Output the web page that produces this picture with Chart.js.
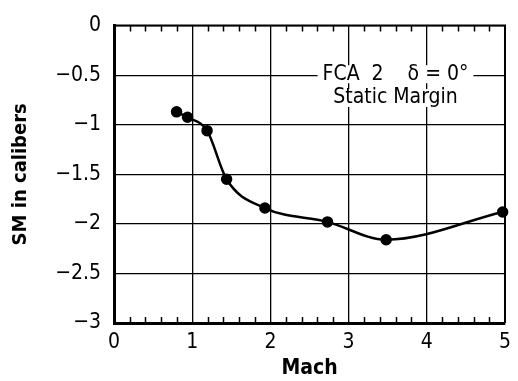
<!DOCTYPE html>
<html>
<head>
<meta charset="utf-8">
<script src="https://cdn.jsdelivr.net/npm/chart.js@4"></script>
<style>
  html, body { margin: 0; padding: 0; background: #fff; }
  #wrap { width: 518px; height: 381px; }
</style>
</head>
<body>
<div id="wrap"><canvas id="smChart"></canvas></div>
<script>
// values
var mach = [0.8, 0.94, 1.19, 1.44, 1.93, 2.73, 3.48, 4.97];
var staticMargin = [-0.87, -0.925, -1.06, -1.55, -1.84, -1.98, -2.16, -1.88];

var xTickLabels = ['0', '1', '2', '3', '4', '5'];
var yTickLabels = ['\u22123', '\u22122.5', '\u22122', '\u22121.5', '\u22121', '\u22120.5', '0'];
var noteLines = ['FCA  2    \u03b4 = 0\u00b0', 'Static Margin'];

var FONT = "'Liberation Sans Narrow', 'DejaVu Sans Condensed', 'Arial Narrow', sans-serif";

// top/right frame, inside minor ticks, and the note text
var framePlugin = {
    id: 'frame',
    afterDraw: function(chart) {
        var ctx = chart.ctx;
        var a = chart.chartArea;
        var xs = chart.scales.x, ys = chart.scales.y;
        ctx.save();
        ctx.strokeStyle = '#000';

        // minor ticks every 0.2 along top and bottom
        ctx.lineWidth = 1.5;
        for (var i = 1; i < 25; i++) {
            if (i % 5 === 0) continue;
            var px = Math.round(xs.getPixelForValue(i * 0.2)) + 0.5;
            ctx.beginPath();
            ctx.moveTo(px, a.bottom); ctx.lineTo(px, a.bottom - 6);
            ctx.moveTo(px, a.top); ctx.lineTo(px, a.top + 6);
            ctx.stroke();
        }

        // top and right border
        ctx.lineWidth = 2;
        ctx.beginPath();
        ctx.moveTo(a.left, a.top); ctx.lineTo(a.right, a.top); ctx.lineTo(a.right, a.bottom);
        ctx.stroke();

        // note text with white backing so the grid breaks around it
        ctx.font = '21px ' + FONT;
        ctx.textAlign = 'center';
        ctx.textBaseline = 'middle';
        var cx = xs.getPixelForValue(3.6);
        var rows = [ys.getPixelForValue(-0.49), ys.getPixelForValue(-0.73)];
        for (var j = 0; j < noteLines.length; j++) {
            var w = ctx.measureText(noteLines[j]).width;
            ctx.fillStyle = '#fff';
            ctx.fillRect(cx - w / 2 - 5, rows[j] - 9, w + 10, 18);
            ctx.fillStyle = '#000';
            ctx.fillText(noteLines[j], cx, rows[j]);
        }
        ctx.restore();
    }
};

var ctx = document.getElementById('smChart').getContext('2d');
var chart = new Chart(ctx, {
    type: 'scatter',
    data: {
        datasets: [{
            data: mach.map(function(m, i) { return { x: m, y: staticMargin[i] }; }),
            showLine: true,
            cubicInterpolationMode: 'monotone',
            borderColor: '#000',
            borderWidth: 2.5,
            pointRadius: 4.5,
            pointBackgroundColor: '#000',
            pointBorderColor: '#000',
            clip: false
        }]
    },
    options: {
        responsive: true,
        maintainAspectRatio: false,
        animation: false,
        events: [],
        layout: { padding: { top: 15, right: 7, left: 0, bottom: 0 } },
        plugins: { legend: { display: false }, tooltip: { enabled: false } },
        scales: {
            x: {
                type: 'linear',
                min: 0, max: 5,
                afterBuildTicks: function(s) { s.ticks = xTickLabels.map(function(t, i) { return { value: i }; }); },
                afterFit: function(s) { s.height = 58; },
                border: { color: '#000', width: 3 },
                grid: { color: '#000', lineWidth: 1.3, drawTicks: false },
                ticks: {
                    color: '#000',
                    padding: 7,
                    maxRotation: 0,
                    font: { family: FONT, size: 21 },
                    callback: function(v, i) { return xTickLabels[i]; }
                },
                title: {
                    display: true,
                    text: 'Mach',
                    color: '#000',
                    padding: { top: 0, bottom: 0 },
                    font: { family: FONT, size: 21, weight: 'bold' }
                }
            },
            y: {
                type: 'linear',
                min: -3, max: 0,
                afterBuildTicks: function(s) { s.ticks = yTickLabels.map(function(t, i) { return { value: -3 + i * 0.5 }; }); },
                afterFit: function(s) { s.width = 114; },
                border: { color: '#000', width: 3 },
                grid: { color: '#000', lineWidth: 1.3, drawTicks: false },
                ticks: {
                    color: '#000',
                    padding: 13,
                    font: { family: FONT, size: 21 },
                    callback: function(v, i) { return yTickLabels[i]; }
                },
                title: {
                    display: true,
                    text: 'SM in calibers',
                    color: '#000',
                    padding: { top: 9, bottom: 0 },
                    font: { family: FONT, size: 20, weight: 'bold' }
                }
            }
        }
    },
    plugins: [framePlugin]
});
</script>
</body>
</html>
